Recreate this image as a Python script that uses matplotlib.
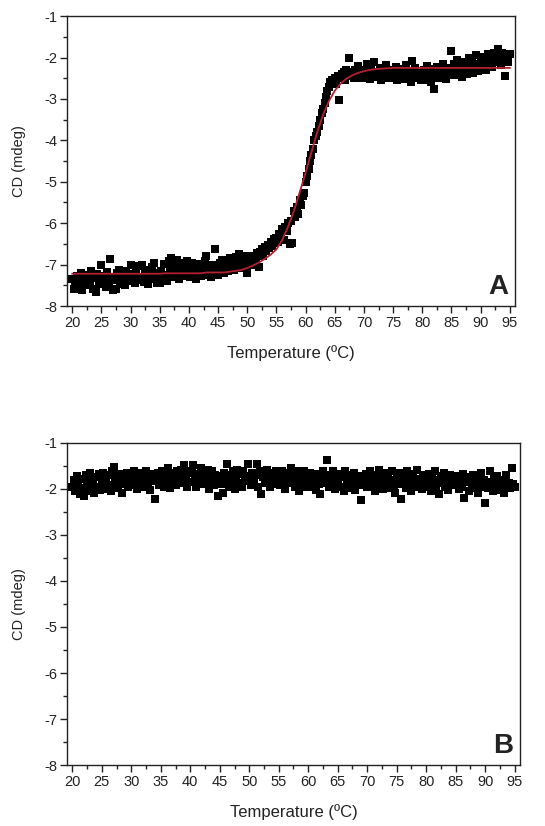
import matplotlib.pyplot as plt
import numpy as np
from matplotlib.ticker import MultipleLocator

plt.rcParams['font.family'] = ['Liberation Sans', 'DejaVu Sans']
plt.rcParams['axes.unicode_minus'] = False

# temperature ramp, 0.25 degC per reading
temp = np.arange(20, 95.001, 0.25)

# panel A: CD signal (mdeg), rows of 5 degC
cd_a = [
    -7.35, -7.60, -7.42, -7.28, -7.55, -7.38, -7.20, -7.62, -7.45, -7.30, -7.50, -7.25, -7.40, -7.15, -7.58, -7.33, -7.65, -7.22, -7.48, -7.36,
    -7.02, -7.40, -7.28, -7.55, -7.18, -7.45, -6.86, -7.30, -7.62, -7.38, -7.58, -7.20, -7.12, -7.46, -7.32, -7.25, -7.50, -7.15, -7.40, -7.28,
    -7.00, -7.35, -7.22, -7.45, -7.10, -7.38, -7.04, -7.30, -7.00, -7.42, -7.18, -7.28, -7.48, -7.12, -7.35, -7.05, -6.96, -7.30, -7.44, -7.20,
    -7.45, -7.15, -7.32, -6.98, -7.25, -7.40, -6.92, -7.10, -6.85, -7.30, -7.05, -7.22, -6.90, -7.35, -7.12, -6.95, -7.28, -7.08, -7.20, -6.92,
    -7.05, -7.30, -6.95, -7.22, -7.10, -7.35, -6.98, -7.18, -7.28, -7.02, -7.15, -6.92, -6.80, -7.25, -7.08, -7.30, -7.00, -7.20, -6.62, -7.12,
    -7.25, -6.95, -7.10, -6.88, -7.20, -7.02, -6.90, -7.15, -6.85, -7.05, -6.96, -7.12, -6.82, -7.00, -6.75, -7.08, -6.90, -6.98, -6.80, -7.05,
    -7.20, -6.78, -6.92, -6.85, -7.00, -6.80, -6.88, -6.72, -7.05, -6.70, -6.62, -6.78, -6.58, -6.68, -6.52, -6.60, -6.45, -6.55, -6.38, -6.48,
    -6.35, -6.45, -6.25, -6.30, -6.15, -6.40, -6.08, -6.20, -6.00, -6.50, -5.95, -6.48, -5.70, -5.85, -5.60, -5.78, -5.45, -5.55, -5.35, -5.28,
    -5.00, -4.85, -4.70, -4.50, -4.35, -4.20, -4.00, -3.90, -3.80, -3.65, -3.50, -3.35, -3.25, -3.10, -2.95, -2.80, -2.70, -2.60, -2.55, -2.62,
    -2.50, -2.65, -2.45, -3.02, -2.50, -2.40, -2.35, -2.55, -2.30, -2.45, -2.00, -2.40, -2.35, -2.50, -2.30, -2.42, -2.20, -2.45, -2.35, -2.50,
    -2.30, -2.45, -2.15, -2.40, -2.52, -2.28, -2.38, -2.12, -2.48, -2.35, -2.42, -2.25, -2.55, -2.32, -2.45, -2.18, -2.40, -2.50, -2.30, -2.42,
    -2.35, -2.48, -2.22, -2.55, -2.38, -2.45, -2.28, -2.52, -2.40, -2.18, -2.48, -2.35, -2.58, -2.08, -2.45, -2.25, -2.50, -2.38, -2.42, -2.55,
    -2.42, -2.30, -2.55, -2.20, -2.48, -2.35, -2.60, -2.28, -2.75, -2.40, -2.22, -2.50, -2.35, -2.45, -2.15, -2.38, -2.52, -2.25, -2.42, -2.30,
    -1.85, -2.30, -2.15, -2.42, -2.05, -2.35, -2.22, -2.48, -2.10, -2.30, -2.18, -2.40, -2.02, -2.28, -2.12, -2.38, -2.20, -1.95, -2.32, -2.15,
    -2.10, -1.98, -2.25, -2.05, -2.30, -1.92, -2.15, -2.02, -2.22, -1.88, -2.12, -1.95, -1.80, -2.08, -2.18, -1.90, -2.05, -2.45, -1.95, -2.10,
    -1.92,
]

# panel A: fitted unfolding curve, 1 degC steps from 20 to 95
fit_temp = np.arange(20, 96)
fit_a = [
    -7.22, -7.22, -7.22, -7.22, -7.22, -7.22, -7.22, -7.22, -7.22, -7.22,
    -7.22, -7.22, -7.22, -7.22, -7.22, -7.22, -7.21, -7.21, -7.21, -7.21,
    -7.21, -7.21, -7.21, -7.19, -7.19, -7.19, -7.19, -7.17, -7.15, -7.13,
    -7.08, -7.02, -6.95, -6.86, -6.76, -6.63, -6.40, -6.08, -5.70, -5.25,
    -4.78, -4.28, -3.80, -3.38, -3.05, -2.80, -2.63, -2.51, -2.43, -2.37,
    -2.33, -2.30, -2.28, -2.27, -2.26, -2.25, -2.25, -2.25, -2.25, -2.25,
    -2.25, -2.25, -2.25, -2.25, -2.25, -2.25, -2.25, -2.25, -2.25, -2.25,
    -2.25, -2.25, -2.25, -2.25, -2.25, -2.25,
]

# panel B: CD signal (mdeg), rows of 5 degC
cd_b = [
    -1.95, -1.80, -2.05, -1.72, -1.90, -2.10, -1.78, -1.98, -2.15, -1.70, -1.88, -2.05, -1.65, -1.92, -1.82, -2.08, -1.75, -1.95, -1.68, -2.02,
    -1.85, -1.65, -2.00, -1.78, -1.92, -1.70, -2.05, -1.60, -1.52, -1.88, -1.75, -1.98, -1.68, -1.82, -2.08, -1.72, -1.90, -1.65, -1.95, -1.80,
    -1.75, -1.92, -1.62, -1.85, -2.00, -1.70, -1.88, -1.66, -1.95, -1.78, -1.60, -1.90, -1.72, -2.02, -1.82, -1.68, -2.22, -1.80, -1.65, -1.92,
    -1.78, -1.62, -1.95, -1.70, -1.85, -1.55, -1.98, -1.72, -1.82, -1.65, -1.92, -1.60, -1.75, -1.88, -1.58, -1.80, -1.47, -1.70, -1.95, -1.66,
    -1.85, -1.62, -1.48, -1.78, -1.95, -1.68, -1.80, -1.55, -1.90, -1.72, -1.65, -1.85, -1.58, -2.00, -1.75, -1.62, -1.92, -1.70, -1.82, -2.15,
    -1.72, -1.90, -2.08, -1.65, -1.80, -1.45, -1.95, -1.70, -1.85, -1.60, -2.00, -1.75, -1.58, -1.88, -1.68, -1.95, -1.62, -1.82, -1.72, -1.45,
    -1.78, -1.92, -1.65, -1.85, -1.70, -1.45, -1.95, -1.60, -2.10, -1.75, -1.68, -1.88, -1.58, -1.80, -1.95, -1.65, -1.72, -1.90, -1.62, -1.85,
    -1.70, -1.92, -1.62, -1.80, -2.00, -1.75, -1.88, -1.65, -1.55, -1.85, -1.72, -1.95, -1.60, -1.82, -2.05, -1.70, -1.88, -1.62, -1.78, -1.95,
    -1.80, -1.65, -1.95, -1.72, -1.85, -2.02, -1.68, -1.90, -2.10, -1.75, -1.62, -1.88, -1.78, -1.38, -1.95, -1.70, -1.85, -1.60, -2.00, -1.75,
    -1.82, -1.68, -1.95, -1.75, -2.05, -1.62, -1.88, -1.78, -1.98, -1.70, -1.85, -1.65, -2.02, -1.80, -1.72, -1.92, -2.25, -1.75, -1.88, -1.68,
    -1.95, -1.78, -1.62, -1.90, -1.82, -2.05, -1.70, -1.88, -1.58, -1.95, -1.75, -2.00, -1.65, -1.85, -1.72, -1.98, -1.80, -1.62, -1.92, -2.08,
    -1.78, -1.90, -1.65, -2.22, -1.85, -1.72, -1.98, -1.60, -1.88, -1.75, -2.05, -1.68, -1.92, -1.82, -1.58, -1.95, -1.78, -2.00, -1.70, -1.88,
    -1.82, -1.95, -1.68, -2.05, -1.75, -1.90, -1.62, -1.98, -1.80, -2.10, -1.72, -1.88, -1.65, -1.95, -1.78, -2.02, -1.70, -1.85, -1.92, -1.75,
    -1.88, -1.72, -2.00, -1.80, -1.95, -1.68, -2.20, -1.85, -1.75, -2.05, -1.82, -1.92, -1.70, -1.98, -1.78, -2.08, -1.85, -1.65, -1.95, -1.80,
    -2.30, -1.85, -1.98, -1.60, -1.90, -2.05, -1.78, -1.95, -1.72, -2.02, -1.85, -1.92, -1.80, -2.08, -1.70, -1.95, -1.88, -1.98, -1.55, -1.90,
    -1.95,
]

x_ticks = list(range(20, 96, 5))
y_ticks = [-8, -7, -6, -5, -4, -3, -2, -1]

fig = plt.figure(figsize=(5.45, 8.26), dpi=100)
ax_a = fig.add_axes([0.123, 0.6295, 0.822, 0.351])
ax_b = fig.add_axes([0.123, 0.0738, 0.831, 0.390])

ink = '#222222'


def style(ax, letter):
    ax.set_xlim(19.1, 95.9)
    ax.set_ylim(-8, -1)
    ax.set_xticks(x_ticks)
    ax.set_yticks(y_ticks)
    ax.xaxis.set_minor_locator(MultipleLocator(2.5))
    ax.yaxis.set_minor_locator(MultipleLocator(0.5))
    ax.tick_params(which='both', direction='out', top=False, right=False,
                   colors=ink, width=1.0)
    ax.tick_params(which='major', length=5, labelsize=10.5, pad=2)
    ax.tick_params(which='minor', length=3)
    for s in ax.spines.values():
        s.set_color(ink)
        s.set_linewidth(1.0)
    ax.set_xlabel('Temperature (ºC)', fontsize=12, color=ink, labelpad=11)
    ax.set_ylabel('CD (mdeg)', fontsize=10.5, color=ink, labelpad=13)
    ax.text(0.985, 0.02, letter, transform=ax.transAxes, ha='right', va='bottom',
            fontsize=20, fontweight='bold', color=ink)


ax_a.plot(temp, cd_a, 's', color='black', ms=6, mew=0, zorder=2)
ax_a.plot(fit_temp, fit_a, '-', color='#b5202e', lw=1.3, zorder=3)
style(ax_a, 'A')

ax_b.plot(temp, cd_b, 's', color='black', ms=6, mew=0, zorder=2)
style(ax_b, 'B')

fig.savefig('out.png', dpi=100)
